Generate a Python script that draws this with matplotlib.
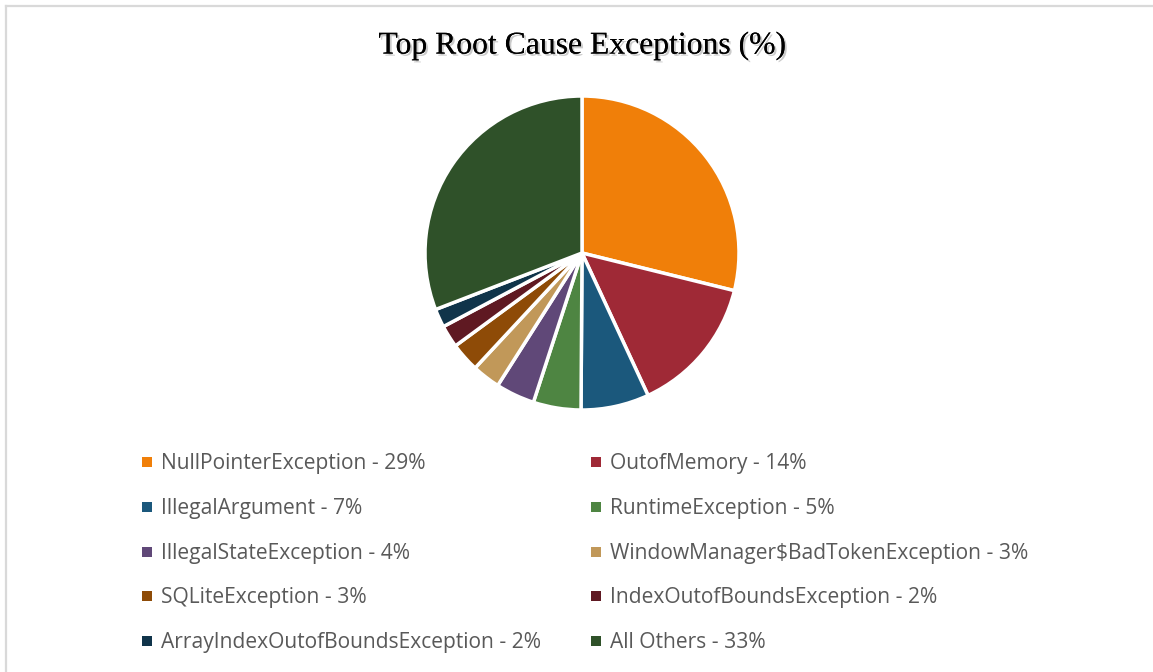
import matplotlib
matplotlib.use("Agg")
from matplotlib import pyplot as plt
from matplotlib.patches import Rectangle
from matplotlib.lines import Line2D
import matplotlib.patheffects as pe

# chart data
labels = ["NullPointerException", "OutofMemory", "IllegalArgument", "RuntimeException",
          "IllegalStateException", "WindowManager$BadTokenException", "SQLiteException",
          "IndexOutofBoundsException", "ArrayIndexOutofBoundsException", "All Others"]
percents = [29, 14, 7, 5, 4, 3, 3, 2, 2, 33]          # as printed in the legend
# wedge sizes as drawn in the pie
wedge_shares = [28.8, 14.2, 7.0, 4.9, 4.0, 2.9, 3.0, 2.3, 1.9, 30.8]
colors = ["#F07F09", "#9F2936", "#1B587C", "#4E8542", "#604878",
          "#C19859", "#8E4B07", "#5F1922", "#10344A", "#2F5129"]

W, H = 1153, 672
fig = plt.figure(figsize=(W / 100, H / 100), dpi=100)

# thin grey frame on top and left edge
fig.add_artist(Line2D([5.5 / W, 5.5 / W], [0, 1 - 5.5 / H], color="#D9D9D9", lw=1.6,
                      transform=fig.transFigure))
fig.add_artist(Line2D([5.5 / W, 1], [1 - 5.5 / H, 1 - 5.5 / H], color="#D9D9D9", lw=1.6,
                      transform=fig.transFigure))

# pie: centre (582, 253) px, radius 157 px
cx, cy, r = 582, 253, 157
ax = fig.add_axes([(cx - r) / W, (H - cy - r) / H, 2 * r / W, 2 * r / H])
ax.pie(wedge_shares, colors=colors, startangle=90, counterclock=False, radius=1,
       wedgeprops=dict(edgecolor="white", linewidth=2.5))
ax.set_xlim(-1, 1)
ax.set_ylim(-1, 1)
ax.set_aspect("equal")
ax.axis("off")

title = fig.text(582 / W, 1 - 46 / H, "Top Root Cause Exceptions (%)", ha="center", va="center",
                 fontsize=22.8, family="Liberation Serif", color="black")
title.set_path_effects([pe.withSimplePatchShadow(offset=(1.5, -1.5), shadow_rgbFace="#999999",
                                                 alpha=0.5), pe.Normal()])

# legend, two columns filled row by row
col_x = [147, 596]
row_y0, row_dy = 462, 44.8
sq = 10
for i, (lab, p, c) in enumerate(zip(labels, percents, colors)):
    x = col_x[i % 2]
    y = row_y0 + row_dy * (i // 2)
    fig.add_artist(Rectangle(((x - sq / 2) / W, 1 - (y + sq / 2) / H), sq / W, sq / H,
                             facecolor=c, edgecolor="none", transform=fig.transFigure))
    fig.text((x + 14) / W, 1 - (y + 1.5) / H, f"{lab} - {p}%", ha="left", va="center",
             fontsize=15.1, family="Open Sans", color="#595959")

fig.savefig("out.png", dpi=100)
